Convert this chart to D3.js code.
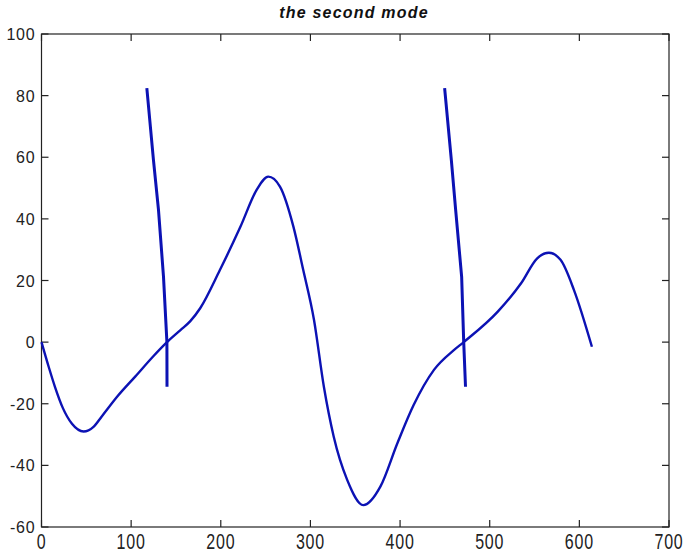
<!DOCTYPE html>
<html>
<head>
  <title>the second mode</title>
  <script src="https://d3js.org/d3.v7.min.js"></script>
  <style>
    body { margin: 0; background: #fff; }
    .frame { fill: none; stroke: #222; stroke-width: 1.2px; }
    .tick line { stroke: #222; stroke-width: 1.2px; }
    .lbl { font-family: Arial, "Liberation Sans", sans-serif; font-size: 16px; fill: #222; letter-spacing: 0.8px; }
    .curve { fill: none; stroke: #0c12b4; stroke-width: 2.4px; stroke-linejoin: round; }
    .spike { fill: none; stroke: #0c12b4; stroke-width: 3px; stroke-linejoin: round; }
  </style>
</head>
<body>
  <svg id="chart" width="685" height="557"></svg>
  <script>
    // values
    const modeX = [0, 8, 15, 24, 34, 47, 58, 67, 85, 104.5, 125, 140, 155, 166, 177, 199, 222, 240, 253, 266, 281, 292, 304, 315, 326, 341, 359, 378, 397, 415, 437.8, 460, 471, 509, 535, 553, 566, 579, 594, 614];
    const modeY = [0, -8, -14.5, -21.5, -26.5, -29, -27.5, -24.2, -17.5, -11.2, -4.5, 0, 3.9, 6.8, 11, 23.4, 37.5, 49.4, 53.7, 50.5, 37.5, 23.4, 7.2, -14.5, -30.7, -44.7, -52.9, -46.9, -32.8, -20.5, -9, -2.6, 0, 9.9, 19.1, 27.2, 29, 26.7, 16.9, -1.5];

    const spike1X = [117.5, 124.9, 130.5, 136.1, 139.9, 140];
    const spike2X = [449.7, 457.2, 462, 468.7, 471, 473];
    const spikeY = [82.4, 59.1, 42.9, 21.2, 0, -14.5];

    const xTicks = [0, 100, 200, 300, 400, 500, 600, 700];
    const yTicks = [-60, -40, -20, 0, 20, 40, 60, 80, 100];

    const svg = d3.select("#chart");
    const pL = 41.5, pR = 669, pT = 34, pB = 527;

    const x = d3.scaleLinear().domain([0, 700]).range([pL, pR]);
    const y = d3.scaleLinear().domain([-60, 100]).range([pB, pT]);

    // frame
    svg.append("rect").attr("class", "frame")
      .attr("x", pL).attr("y", pT)
      .attr("width", pR - pL).attr("height", pB - pT);

    // inward ticks on all four sides
    const tl = 7;
    const g = svg.append("g").attr("class", "tick");
    xTicks.forEach(t => {
      g.append("line").attr("x1", x(t)).attr("x2", x(t)).attr("y1", pB).attr("y2", pB - tl);
      g.append("line").attr("x1", x(t)).attr("x2", x(t)).attr("y1", pT).attr("y2", pT + tl);
    });
    yTicks.forEach(t => {
      g.append("line").attr("x1", pL).attr("x2", pL + tl).attr("y1", y(t)).attr("y2", y(t));
      g.append("line").attr("x1", pR).attr("x2", pR - tl).attr("y1", y(t)).attr("y2", y(t));
    });

    // tick labels
    svg.selectAll(".xl").data(xTicks).enter().append("text")
      .attr("class", "lbl")
      .attr("text-anchor", "middle")
      .attr("transform", d => `translate(${x(d)},549) scale(1,1.4)`)
      .text(d => d);

    svg.selectAll(".yl").data(yTicks).enter().append("text")
      .attr("class", "lbl")
      .attr("text-anchor", "end")
      .attr("x", pL - 6)
      .attr("y", d => y(d) + 6)
      .text(d => d);

    // title
    svg.append("text")
      .attr("x", 354).attr("y", 18)
      .attr("text-anchor", "middle")
      .style("font-family", "Arial, 'Liberation Sans', sans-serif")
      .style("font-size", "16px")
      .style("font-weight", "bold")
      .style("font-style", "italic")
      .style("letter-spacing", "1.2px")
      .style("fill", "#111")
      .text("the second mode");

    const smooth = d3.line().x(d => x(d[0])).y(d => y(d[1])).curve(d3.curveMonotoneX);
    const straight = d3.line().x(d => x(d[0])).y(d => y(d[1]));

    svg.append("path").attr("class", "curve")
      .attr("d", smooth(d3.zip(modeX, modeY)));
    svg.append("path").attr("class", "spike")
      .attr("d", straight(d3.zip(spike1X, spikeY)));
    svg.append("path").attr("class", "spike")
      .attr("d", straight(d3.zip(spike2X, spikeY)));
  </script>
</body>
</html>
